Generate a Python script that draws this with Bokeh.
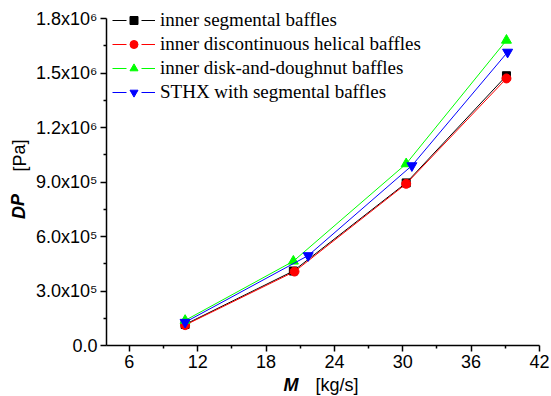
import math
from bokeh.plotting import figure
from bokeh.models import (Range1d, FixedTicker, Legend, LegendItem, Label, LinearAxis)
from bokeh.embed import file_html
from bokeh.resources import INLINE

# ---- data ----
series_names = ["inner segmental baffles",
                "inner discontinuous helical baffles",
                "inner disk-and-doughnut baffles",
                "STHX with segmental baffles"]
x_seg = [10.9, 20.4, 30.3, 39.1]
dp_seg = [1.16e5, 4.10e5, 8.95e5, 1.485e6]
x_hel = [10.9, 20.5, 30.3, 39.1]
dp_hel = [1.12e5, 4.07e5, 8.90e5, 1.470e6]
x_dd = [10.9, 20.4, 30.3, 39.1]
dp_dd = [1.38e5, 4.64e5, 1.00e6, 1.680e6]
x_sthx = [10.9, 21.7, 30.8, 39.2]
dp_sthx = [1.28e5, 4.95e5, 0.99e6, 1.615e6]

x_ticks = [6, 12, 18, 24, 30, 36, 42]
x_minor = [9, 15, 21, 27, 33, 39]
y_ticks = [0, 300000, 600000, 900000, 1200000, 1500000, 1800000]
y_minor = [150000, 450000, 750000, 1050000, 1350000, 1650000]
y_tick_labels = ["0.0", "3.0x10\u2075", "6.0x10\u2075", "9.0x10\u2075",
                 "1.2x10\u2076", "1.5x10\u2076", "1.8x10\u2076"]
x_axis_span = (4, 42)
y_axis_span = (0, 1800000)

colors = ["#000000", "#FF0000", "#00FF00", "#0000FF"]
markers = ["square", "circle", "triangle", "inverted_triangle"]
msizes = [8, 9, 10, 10]

# ---- layout: frame fills the canvas, axes are pinned inside it ----
W, H = 550, 395
left_px, right_px, top_px, bottom_px = 106, 539, 18, 345
xs_per_px = (x_axis_span[1] - x_axis_span[0]) / (right_px - left_px)
ys_per_px = (y_axis_span[1] - y_axis_span[0]) / (bottom_px - top_px)
x0 = x_axis_span[0] - left_px * xs_per_px
x1 = x_axis_span[1] + (W - right_px) * xs_per_px
y0 = y_axis_span[0] - (H - bottom_px) * ys_per_px
y1 = y_axis_span[1] + top_px * ys_per_px

p = figure(width=W, height=H, output_backend="svg", toolbar_location=None,
           x_range=Range1d(x0, x1), y_range=Range1d(y0, y1),
           x_axis_location=None, y_axis_location=None,
           min_border=0)
p.outline_line_color = None
p.xgrid.visible = False
p.ygrid.visible = False
p.background_fill_color = "white"
p.border_fill_color = "white"

xaxis = LinearAxis(fixed_location=y_axis_span[0], bounds=x_axis_span)
yaxis = LinearAxis(fixed_location=x_axis_span[0], bounds=y_axis_span)
for ax, tk, mn in ((xaxis, x_ticks, x_minor), (yaxis, y_ticks, y_minor)):
    ax.ticker = FixedTicker(ticks=tk, minor_ticks=mn)
    ax.axis_line_width = 1.5
    ax.axis_line_color = "black"
    ax.major_tick_line_width = 1.5
    ax.minor_tick_line_width = 1.5
    ax.major_tick_in = 0
    ax.major_tick_out = 6
    ax.minor_tick_in = 0
    ax.minor_tick_out = 3
    ax.major_label_text_font = "Liberation Sans"
    ax.major_label_text_font_size = "18px"
    ax.major_label_text_color = "black"
    ax.major_label_standoff = 3
yaxis.major_label_overrides = {float(v): s for v, s in zip(y_ticks, y_tick_labels)}
p.add_layout(xaxis, "below")
p.add_layout(yaxis, "left")

xs = [x_seg, x_hel, x_dd, x_sthx]
ys = [dp_seg, dp_hel, dp_dd, dp_sthx]
items = []
nan = math.nan
for name, xv, yv, c, m, s in zip(series_names, xs, ys, colors, markers, msizes):
    p.line(xv, yv, line_color=c, line_width=1)
    p.scatter(xv, yv, marker=m, size=s, fill_color=c, line_color=c)
    # legend-only proxies (no visible data): line with a gap around the marker
    lg_line = p.line([nan, nan], [nan, nan], line_color=c, line_width=1,
                     line_dash="14 15")
    lg_mark = p.scatter([nan], [nan], marker=m, size=s - 1, fill_color=c, line_color=c)
    items.append(LegendItem(label=name, renderers=[lg_line, lg_mark]))

legend = Legend(items=items, location=(112, H - 103), orientation="vertical",
                padding=0, margin=0, spacing=2, glyph_width=43, glyph_height=20,
                label_height=20, label_standoff=5,
                label_text_font="Liberation Serif", label_text_font_size="19px",
                label_text_color="black",
                border_line_color=None, background_fill_alpha=0)
p.add_layout(legend)

# axis titles (screen units, relative to the frame's bottom-left = canvas)
lab_kw = dict(text_font="Liberation Sans", text_font_size="18px", text_color="black",
              x_units="screen", y_units="screen")
p.add_layout(Label(x=18, y=H - 206, text="DP", angle=1.5708, text_align="center",
                   text_baseline="middle", text_font_style="bold italic", **lab_kw))
p.add_layout(Label(x=19, y=H - 155, text="[Pa]", angle=1.5708, text_align="center",
                   text_baseline="middle", **lab_kw))
p.add_layout(Label(x=283, y=H - 384, text="M", text_align="left",
                   text_baseline="middle", text_font_style="bold italic", **lab_kw))
p.add_layout(Label(x=315, y=H - 384, text="[kg/s]", text_align="left",
                   text_baseline="middle", **lab_kw))

open("out.html", "w").write(file_html(p, INLINE))
